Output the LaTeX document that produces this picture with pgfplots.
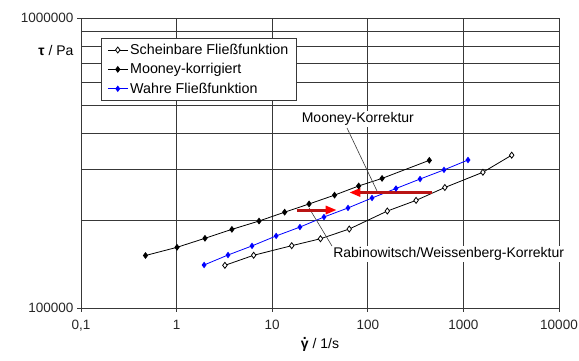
\documentclass[border=0pt]{standalone}
\usepackage{fontspec}
\setmainfont{Liberation Sans}
\usepackage{pgfplots}
\pgfplotsset{compat=1.18}
\usetikzlibrary{arrows.meta}
\definecolor{gridc}{gray}{0.22}
\definecolor{darkred}{RGB}{185,20,20}
\newcommand{\gdot}{{\ooalign{\textbf{γ}\cr\hidewidth\raisebox{0.62em}{\textbf{.}}\hidewidth\cr}}}
\begin{document}
\begin{tikzpicture}[x=1pt,y=1pt]
\useasboundingbox (-81,-52) rectangle (498,308);
\begin{axis}[
 at={(0,0)}, anchor=south west, scale only axis, width=478pt, height=290pt,
 xmode=log, ymode=log, xmin=0.1, xmax=10000, ymin=1e5, ymax=1e6,
 xtick={0.1,1,10,100,1000,10000}, xticklabels={{0,1},1,10,100,1000,10000},
 ytick={1e5,1e6}, yticklabels={100000,1000000},
 xminorticks=false,
 xmajorgrids, ymajorgrids, yminorgrids,
 minor tick length=0pt, major tick length=4pt, tick align=outside,
 xtick pos=bottom, ytick pos=left,
 tick style={gridc, line width=0.8pt},
 major grid style={gridc, line width=0.8pt},
 minor grid style={gridc, line width=0.8pt},
 axis line style={gridc, line width=0.8pt},
 /pgf/number format/assume math mode=true,
 ticklabel style={font=\fontsize{13.5}{16}\selectfont, text=black!85},
 xticklabel style={yshift=-5pt},
 clip=false,
 legend style={at={(0.0418,0.932)}, anchor=north west, draw=gridc, line width=0.8pt,
   fill=white, font=\fontsize{14.3}{16}\selectfont, row sep=3.5pt, inner xsep=6pt, inner ysep=4pt},
 legend cell align=left,
 legend image code/.code={\draw[mark repeat=2,mark phase=2,#1] plot coordinates {(0pt,0pt)(10pt,0pt)(20pt,0pt)};},
]
\addplot[black, line width=0.8pt, mark=diamond*, mark size=3pt, mark options={solid, fill=white, draw=black}] coordinates {
 (3.2,140300) (6.4,152000) (16,164000) (32,173300) (64,187200) (160,215900) (320,235000) (640,260300) (1600,293800) (3200,336500)};
\addlegendentry{Scheinbare Fließfunktion}
\addplot[black, line width=0.8pt, mark=diamond*, mark size=2.8pt, mark options={solid, fill=black}] coordinates {
 (0.473,151700) (1.01,161900) (1.98,173900) (3.79,186700) (7.28,199500) (13.5,214000) (24.3,228400) (44.9,245000) (80.3,263500) (141,279800) (440,323000)};
\addlegendentry{Mooney-korrigiert}
\addplot[blue, line width=0.8pt, mark=diamond*, mark size=2.6pt, mark options={solid, fill=blue}] coordinates {
 (1.94,140700) (3.45,152300) (6.15,163700) (11.0,177200) (19.5,190100) (34.8,205900) (62.1,221300) (110.7,239500) (197,258200) (352,278400) (627,299400) (1117,323800)};
\addlegendentry{Wahre Fließfunktion}
% leader lines
\draw[gridc, line width=0.6pt] (axis cs:60.6,417600) -- (axis cs:124.8,253200);
\draw[gridc, line width=0.6pt] (axis cs:24.3,221200) -- (axis cs:42.2,163600);
% red arrows
\draw[darkred, line width=3pt, -{Triangle[length=11pt,width=8pt,color=red]}] (axis cs:18.04,217700) -- (axis cs:47.3,217700);
\draw[darkred, line width=3pt, -{Triangle[length=11pt,width=8pt,color=red]}] (axis cs:466,250200) -- (axis cs:64.0,250200);
% annotation texts
\node[anchor=west, inner sep=1.5pt, fill=white, font=\fontsize{14}{16}\selectfont] at (axis cs:19.6,448500) {Mooney-Korrektur};
\node[anchor=west, inner sep=1.5pt, fill=white, font=\fontsize{14}{16}\selectfont] at (axis cs:41.8,153600) {Rabinowitsch/Weissenberg-Korrektur};
\end{axis}
\node[anchor=east, font=\fontsize{14}{16}\selectfont] at (-4,258) {\textbf{τ} / Pa};
\node[anchor=center, font=\fontsize{14}{16}\selectfont] at (239,-35) {\gdot{} / 1/s};
\end{tikzpicture}
\end{document}
